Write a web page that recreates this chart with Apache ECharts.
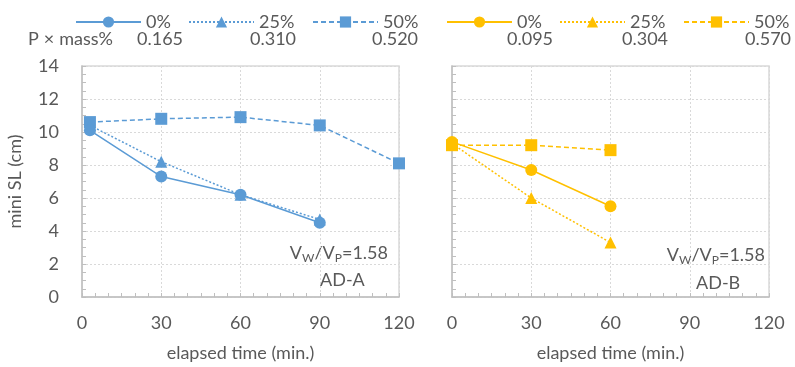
<!DOCTYPE html>
<html><head><meta charset="utf-8">
<script src="https://cdn.jsdelivr.net/npm/echarts@6/dist/echarts.min.js"></script>
<style>html,body{margin:0;padding:0;background:#fff}#c{width:795px;height:367px}</style>
</head><body><div id="c"></div>
<script>
// ---- data ----
const legendLabels = ['0%', '25%', '50%'];
const pMassA = ['0.165', '0.310', '0.520'];
const pMassB = ['0.095', '0.304', '0.570'];
const xTicks = [0, 30, 60, 90, 120];
const yTicks = [0, 2, 4, 6, 8, 10, 12, 14];

const timeA0 = [3, 30, 60, 90];
const slA0 = [10.1, 7.3, 6.2, 4.5];
const timeA25 = [3, 30, 60, 90];
const slA25 = [10.4, 8.2, 6.2, 4.7];
const timeA50 = [3, 30, 60, 90, 120];
const slA50 = [10.6, 10.8, 10.9, 10.4, 8.1];

const timeB0 = [0, 30, 60];
const slB0 = [9.4, 7.7, 5.5];
const timeB25 = [0, 30, 60];
const slB25 = [9.3, 6.0, 3.3];
const timeB50 = [0, 30, 60];
const slB50 = [9.2, 9.2, 8.9];

const ratioText = 'V{s|W}/V{s|P}=1.58';
const pMassLabel = 'P{x|×}mass%';
const panelA = 'AD-A';
const panelB = 'AD-B';

// ---- build ----
const pairs = (xs, ys) => xs.map((x, i) => [x, ys[i]]);
const FONT = 'Lato';
const FS = 18;
const TXT = '#595959';
const BLUE = '#5b9bd5';
const ORANGE = '#ffc000';
const styles = [
  {symbol: 'circle', size: 12, type: 'solid'},
  {symbol: 'triangle', size: 12, type: [2, 2]},
  {symbol: 'rect', size: 12, type: [5, 3]}
];

function mkSeries(prefix, color, gi, sets) {
  return sets.map((d, i) => ({
    name: prefix + legendLabels[i],
    type: 'line',
    xAxisIndex: gi, yAxisIndex: gi,
    data: pairs(d[0], d[1]),
    symbol: styles[i].symbol,
    symbolSize: styles[i].size,
    showSymbol: true,
    itemStyle: {color: color},
    lineStyle: {color: color, width: 1.5, type: styles[i].type},
    z: 10 - i,
    animation: false
  }));
}

const series = [
  ...mkSeries('A', BLUE, 0, [[timeA0, slA0], [timeA25, slA25], [timeA50, slA50]]),
  ...mkSeries('B', ORANGE, 1, [[timeB0, slB0], [timeB25, slB25], [timeB50, slB50]])
];

const legendLeft = [70, 183, 307, 441, 554, 678];
const legends = series.map((s, i) => ({
  data: [s.name],
  left: legendLeft[i], top: 8,
  itemWidth: 65, itemHeight: 14, itemGap: 0,
  textStyle: {fontFamily: FONT, fontSize: FS, color: TXT},
  formatter: n => n.slice(1),
  selectedMode: false
}));

function xAxis(gi) {
  return {
    type: 'value', gridIndex: gi, min: 0, max: 120, interval: 30,
    name: 'elapsed time (min.)', nameLocation: 'middle', nameGap: 47,
    nameTextStyle: {fontFamily: FONT, fontSize: FS, color: TXT},
    axisLine: {show: true, onZero: false, lineStyle: {color: '#bfbfbf', width: 1.5}},
    axisTick: {show: true, inside: true, length: 4, lineStyle: {color: '#bfbfbf'}},
    minorTick: {show: true, splitNumber: 6, length: 4, lineStyle: {color: '#bfbfbf'}},
    axisLabel: {fontFamily: FONT, fontSize: FS, color: TXT, margin: 17},
    splitLine: {show: true, lineStyle: {color: '#d9d9d9', type: [2, 2]}}
  };
}
function yAxis(gi, labels) {
  return {
    type: 'value', gridIndex: gi, min: 0, max: 14, interval: 2,
    name: labels ? 'mini SL (cm)' : '', nameLocation: 'middle', nameGap: 58,
    nameTextStyle: {fontFamily: FONT, fontSize: FS, color: TXT},
    axisLine: {show: true, lineStyle: {color: '#bfbfbf', width: 1.5}},
    axisTick: {show: true, inside: true, length: 4, lineStyle: {color: '#bfbfbf'}},
    minorTick: {show: true, splitNumber: 4, length: 4, lineStyle: {color: '#bfbfbf'}},
    axisLabel: {show: labels, fontFamily: FONT, fontSize: FS, color: TXT, margin: 23},
    splitLine: {show: true, lineStyle: {color: '#d9d9d9', type: [2, 2]}}
  };
}

const rich = {
  s: {fontFamily: FONT, fontSize: 12, fill: TXT, verticalAlign: 'bottom', padding: [11, 0, 0, 0]},
  x: {fontFamily: FONT, fontSize: FS, fill: TXT, padding: [0, 5, 0, 5]}
};
const baseText = {fontFamily: FONT, fontSize: FS, fill: TXT};

const graphic = [
  {type: 'text', left: 28, top: 30, style: Object.assign({text: pMassLabel, rich: rich}, baseText)},
  ...pMassA.map((t, i) => ({type: 'text', left: [137, 250, 372][i], top: 30, style: Object.assign({text: t}, baseText)})),
  ...pMassB.map((t, i) => ({type: 'text', left: [507, 622, 745][i], top: 30, style: Object.assign({text: t}, baseText)})),
  {type: 'text', right: 795 - 388, top: 244, style: Object.assign({text: ratioText, rich: rich}, baseText)},
  {type: 'text', left: 320, top: 271, style: Object.assign({text: panelA}, baseText)},
  {type: 'text', right: 795 - 765, top: 246, style: Object.assign({text: ratioText, rich: rich}, baseText)},
  {type: 'text', left: 696, top: 274, style: Object.assign({text: panelB}, baseText)}
];

const chart = echarts.init(document.getElementById('c'), null, {renderer: 'canvas'});
chart.setOption({
  animation: false,
  backgroundColor: '#fff',
  legend: legends,
  grid: [
    {left: 82, right: 396, top: 66, bottom: 68, show: true, borderColor: '#d9d9d9', borderWidth: 1.5},
    {left: 452, right: 26, top: 66, bottom: 68, show: true, borderColor: '#d9d9d9', borderWidth: 1.5}
  ],
  xAxis: [xAxis(0), xAxis(1)],
  yAxis: [yAxis(0, true), yAxis(1, false)],
  series: series,
  graphic: graphic
});
</script></body></html>
